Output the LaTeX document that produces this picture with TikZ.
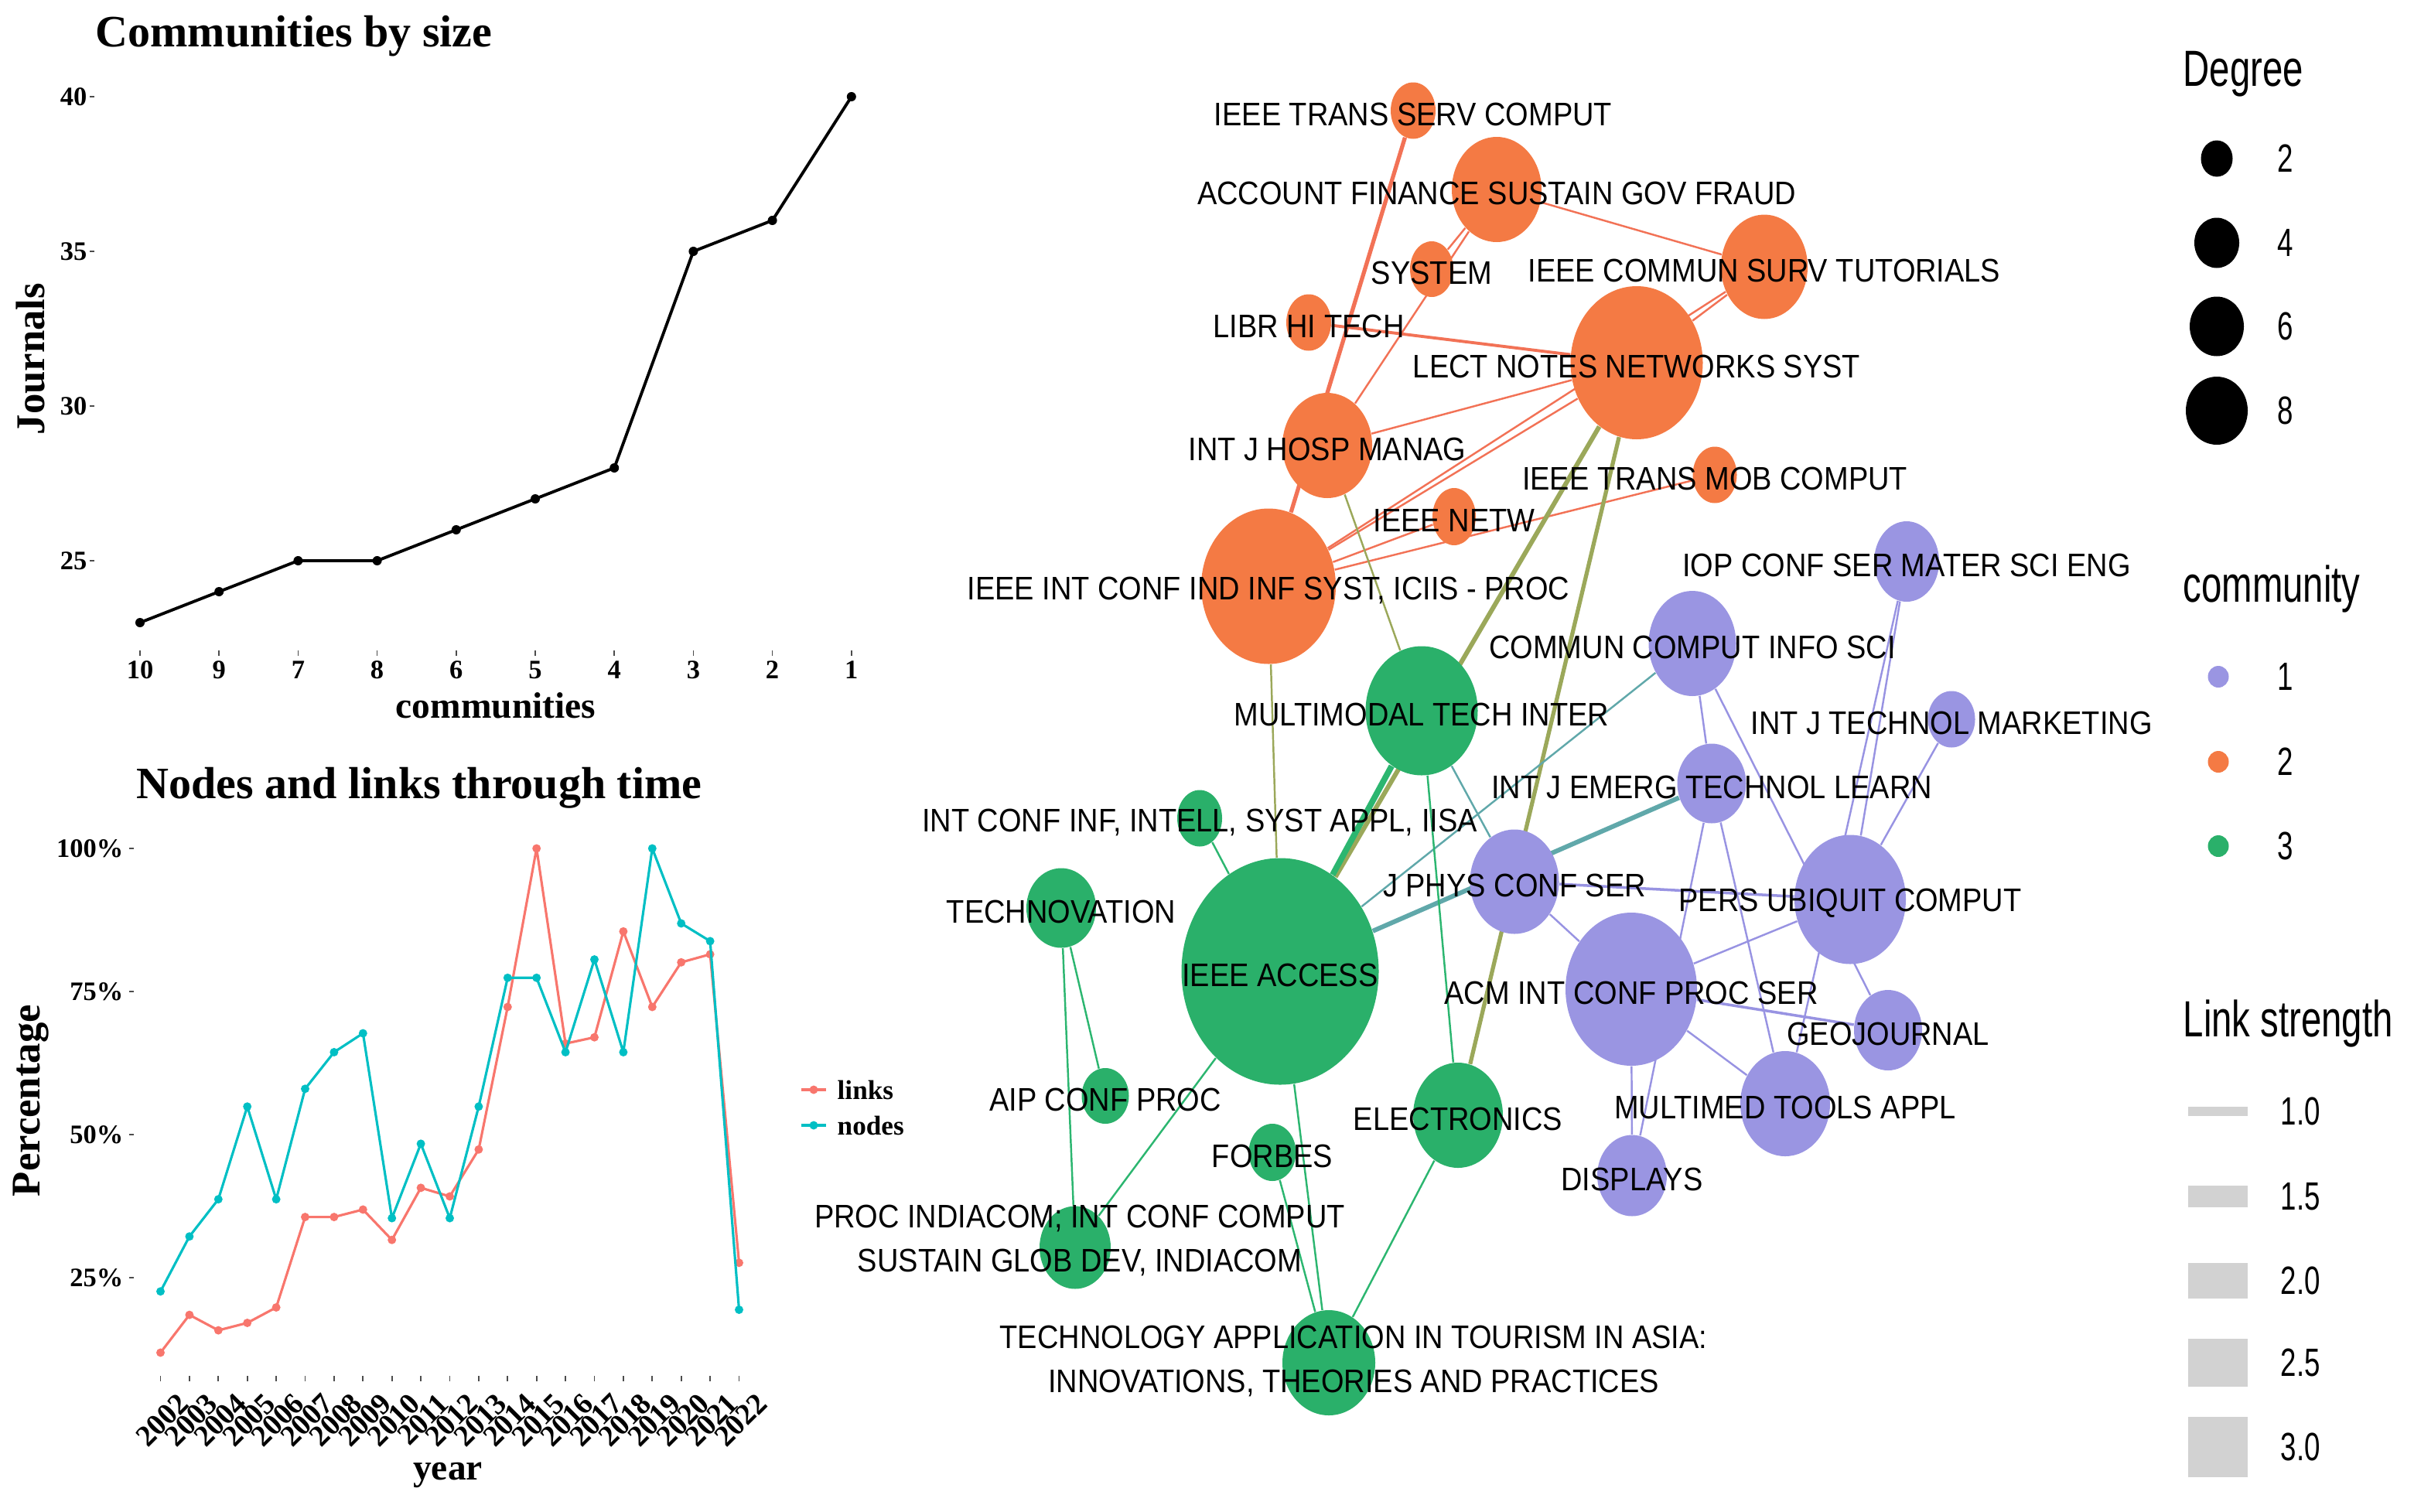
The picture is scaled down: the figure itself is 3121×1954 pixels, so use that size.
\documentclass[tikz,border=0pt]{standalone}
\usepackage{fontspec}
\setmainfont{Liberation Serif}
\newfontfamily\netfont[FakeStretch=0.9]{Liberation Sans}
\newfontfamily\legfont[FakeStretch=0.72]{Liberation Sans}
\usetikzlibrary{shapes.geometric,backgrounds}
\definecolor{corange}{RGB}{244,122,68}
\definecolor{cpurple}{RGB}{154,149,226}
\definecolor{cgreen}{RGB}{42,176,106}
\definecolor{eorange}{RGB}{242,114,86}
\definecolor{eolive}{RGB}{155,168,90}
\definecolor{eteal}{RGB}{96,168,170}
\definecolor{egreen}{RGB}{44,182,112}
\definecolor{epurple}{RGB}{152,147,226}
\definecolor{clinks}{RGB}{248,118,109}
\definecolor{cnodes}{RGB}{0,191,196}
\definecolor{lgrey}{RGB}{210,210,210}
\begin{document}
\begin{tikzpicture}[x=0.01cm, y=-0.01cm,
  nd/.style={ellipse, inner sep=0pt, draw=none},
  sz/.style 2 args={minimum width={#1*0.01cm}, minimum height={#2*0.01cm}},
  onode/.style={nd, fill=corange},
  pnode/.style={nd, fill=cpurple},
  gnode/.style={nd, fill=cgreen},
  lbl/.style={font=\netfont\fontsize{12}{16}\selectfont, align=center, inner sep=0pt},
  oe/.style={draw=eorange, line width=0.7pt},
  ole/.style={draw=eolive, line width=0.7pt},
  tee/.style={draw=eteal, line width=0.7pt},
  ge/.style={draw=egreen, line width=0.7pt},
  pe/.style={draw=epurple, line width=0.7pt},
  chtitle/.style={font=\bfseries\fontsize{16.5}{20}\selectfont, inner sep=0pt},
  axt/.style={font=\bfseries\fontsize{13.5}{16}\selectfont, inner sep=0pt},
  axv/.style={font=\bfseries\fontsize{15}{18}\selectfont, inner sep=0pt, rotate=90},
  ticklbl/.style={font=\bfseries\fontsize{9.8}{12}\selectfont, inner sep=0pt},
  yrlbl/.style={font=\bfseries\fontsize{11}{13}\selectfont, inner sep=0pt, rotate=45, anchor=east},
  tickmark/.style={draw=black!70, line width=0.5pt},
  blackdot/.style={circle, fill=black, inner sep=0pt, minimum size=0.12cm},
  ldot/.style={circle, fill=clinks, inner sep=0pt, minimum size=0.11cm},
  ndot/.style={circle, fill=cnodes, inner sep=0pt, minimum size=0.11cm},
  legt/.style={font=\legfont\fontsize{18.7}{22}\selectfont, inner sep=0pt},
  legi/.style={font=\legfont\fontsize{14.5}{17}\selectfont, inner sep=0pt, anchor=west},
  lbar/.style={rectangle, fill=lgrey, inner sep=0pt, minimum width=0.77cm}
]
\useasboundingbox (0,0) rectangle (3121,1954);

% ================= Communities by size =================
\node[chtitle, anchor=base west] (t1) at (123,60) {Communities by size};
\foreach \v/\yy in {40/125,35/325,30/525,25/725}{
  \node[ticklbl, anchor=east] (yl\v) at (113,\yy) {\v};
  \draw[tickmark] (116,\yy) -- (122,\yy);
}
\foreach \lab [count=\i from 0] in {10,9,7,8,6,5,4,3,2,1}{
  \node[ticklbl] (xl\i) at (181+102.2*\i,866) {\lab};
  \draw[tickmark] (181+102.2*\i,841) -- (181+102.2*\i,848);
}
\node[axt] (xt1) at (641,912) {communities};
\node[axv] (yt1) at (40,464) {Journals};
\begin{scope}[shift={(181,1725)}, xscale=102.2, yscale=-40]
  \draw[black, line width=1.1pt, line join=round] (0,23) -- (1,24) -- (2,25) -- (3,25) -- (4,26) -- (5,27) -- (6,28) -- (7,35) -- (8,36) -- (9,40);
  \foreach \v [count=\i from 0] in {23,24,25,25,26,27,28,35,36,40}
    \node[blackdot] (cd\i) at (\i,\v) {};
\end{scope}

% ================= Nodes and links through time =================
\node[chtitle, anchor=base] (t2) at (542,1032) {Nodes and links through time};
\foreach \v/\yy in {100/1097,75/1282,50/1467,25/1652}{
  \node[ticklbl, anchor=east] (pl\v) at (160,\yy) {\v\%};
  \draw[tickmark] (167,\yy) -- (173,\yy);
}
\foreach \yr [count=\i from 0] in {2002,2003,2004,2005,2006,2007,2008,2009,2010,2011,2012,2013,2014,2015,2016,2017,2018,2019,2020,2021,2022}{
  \draw[tickmark] (207.5+37.4*\i,1779) -- (207.5+37.4*\i,1786);
  \node[yrlbl] (yr\yr) at (237.5+37.4*\i,1808) {\yr};
}
\node[axt] (xt2) at (579,1907) {year};
\node[axv] (yt2) at (40,1423) {Percentage};
\begin{scope}[shift={(207.5,1837)}, xscale=37.4, yscale=-7.4]
  \draw[clinks, line width=0.9pt, line join=round] (0,11.9) -- (1,18.5) -- (2,15.8) -- (3,17.1) -- (4,19.8) -- (5,35.6) -- (6,35.6) -- (7,36.9) -- (8,31.6) -- (9,40.7) -- (10,39.2) -- (11,47.4) -- (12,72.3) -- (13,100) -- (14,65.9) -- (15,67.0) -- (16,85.5) -- (17,72.3) -- (18,80.1) -- (19,81.5) -- (20,27.6);
  \foreach \v [count=\i from 0] in {11.9,18.5,15.8,17.1,19.8,35.6,35.6,36.9,31.6,40.7,39.2,47.4,72.3,100,65.9,67.0,85.5,72.3,80.1,81.5,27.6}
    \node[ldot] (lk\i) at (\i,\v) {};
  \draw[cnodes, line width=0.9pt, line join=round] (0,22.6) -- (1,32.2) -- (2,38.7) -- (3,54.9) -- (4,38.7) -- (5,58.0) -- (6,64.4) -- (7,67.7) -- (8,35.4) -- (9,48.4) -- (10,35.4) -- (11,54.9) -- (12,77.4) -- (13,77.4) -- (14,64.4) -- (15,80.6) -- (16,64.4) -- (17,100) -- (18,86.9) -- (19,83.8) -- (20,19.4);
  \foreach \v [count=\i from 0] in {22.6,32.2,38.7,54.9,38.7,58.0,64.4,67.7,35.4,48.4,35.4,54.9,77.4,77.4,64.4,80.6,64.4,100,86.9,83.8,19.4}
    \node[ndot] (nk\i) at (\i,\v) {};
\end{scope}
\draw[clinks, line width=0.9pt] (1036,1409) -- (1068,1409);
\node[ldot] (lgl) at (1052,1409) {};
\node[font=\bfseries\fontsize{10}{12}\selectfont, inner sep=0pt, anchor=west] (lgltx) at (1082,1409) {links};
\draw[cnodes, line width=0.9pt] (1036,1455) -- (1068,1455);
\node[ndot] (lgn) at (1052,1455) {};
\node[font=\bfseries\fontsize{10}{12}\selectfont, inner sep=0pt, anchor=west] (lgntx) at (1082,1455) {nodes};

% ================= Network: nodes =================
\node[onode, sz={58}{73}] (serv) at (1827,143) {};
\node[onode, sz={116}{136}] (account) at (1935,245) {};
\node[onode, sz={56}{72}] (system) at (1851,348) {};
\node[onode, sz={112}{135}] (commsurv) at (2281,345) {};
\node[onode, sz={58}{73}] (libr) at (1692,417) {};
\node[onode, sz={171}{198}] (lect) at (2116,469) {};
\node[onode, sz={116}{136}] (hosp) at (1716,576) {};
\node[onode, sz={57}{73}] (mob) at (2217,614) {};
\node[onode, sz={56}{74}] (netw) at (1880,668) {};
\node[onode, sz={174}{201}] (infsyst) at (1640,758) {};

\node[pnode, sz={84}{104}] (iop) at (2465,726) {};
\node[pnode, sz={113}{136}] (commun) at (2188,832) {};
\node[pnode, sz={61}{73}] (market) at (2523,930) {};
\node[pnode, sz={89}{103}] (emerg) at (2213,1013) {};
\node[pnode, sz={115}{135}] (jphys) at (1958,1140) {};
\node[pnode, sz={144}{167}] (pers) at (2392,1163) {};
\node[pnode, sz={170}{198}] (acm) at (2109,1279) {};
\node[pnode, sz={88}{104}] (geo) at (2441,1332) {};
\node[pnode, sz={116}{136}] (multimed) at (2308,1427) {};
\node[pnode, sz={90}{105}] (displays) at (2110,1520) {};

\node[gnode, sz={145}{167}] (multimodal) at (1838,919) {};
\node[gnode, sz={58}{73}] (iisa) at (1551,1058) {};
\node[gnode, sz={90}{103}] (technovation) at (1372,1174) {};
\node[gnode, sz={255}{293}] (access) at (1655,1256) {};
\node[gnode, sz={61}{72}] (aip) at (1429,1417) {};
\node[gnode, sz={61}{74}] (forbes) at (1645,1490) {};
\node[gnode, sz={116}{136}] (electronics) at (1885,1442) {};
\node[gnode, sz={92}{107}] (indiacom) at (1390,1613) {};
\node[gnode, sz={120}{136}] (tourism) at (1718,1762) {};

% ================= Network: edges =================
\begin{scope}[on background layer]
\draw[oe, line width=1.5pt] (serv) -- (infsyst);
\draw[oe] (account) -- (system);
\draw[oe] (account) -- (hosp);
\draw[oe] (account) -- (commsurv);
\draw[oe] (commsurv) -- (lect);
\draw[oe] (commsurv) -- (infsyst);
\draw[oe, line width=1.1pt] (libr) -- (lect);
\draw[oe] (lect) -- (hosp);
\draw[oe] (lect) -- (infsyst);
\draw[oe] (infsyst) -- (netw);
\draw[oe] (infsyst) -- (mob);
\draw[ole] (infsyst) -- (access);
\draw[ole] (hosp) -- (multimodal);
\draw[ole, line width=1.7pt] (lect) -- (access);
\draw[ole, line width=1.5pt] (lect) -- (electronics);
\draw[tee, line width=1.7pt] (access) -- (emerg);
\draw[tee] (access) -- (commun);
\draw[tee] (multimodal) -- (jphys);
\draw[ge, line width=2.2pt] (multimodal) -- (access);
\draw[ge] (multimodal) -- (electronics);
\draw[ge] (iisa) -- (access);
\draw[ge] (technovation) -- (aip);
\draw[ge] (technovation) -- (indiacom);
\draw[ge] (access) -- (indiacom);
\draw[ge] (access) -- (tourism);
\draw[ge] (forbes) -- (tourism);
\draw[ge] (electronics) -- (tourism);
\draw[pe] (iop) -- (pers);
\draw[pe] (iop) -- (multimed);
\draw[pe] (market) -- (pers);
\draw[pe] (commun) -- (emerg);
\draw[pe] (commun) -- (geo);
\draw[pe] (emerg) -- (multimed);
\draw[pe] (emerg) -- (displays);
\draw[pe, line width=1.0pt] (jphys) -- (pers);
\draw[pe] (jphys) -- (acm);
\draw[pe] (acm) -- (pers);
\draw[pe, line width=1.0pt] (acm) -- (geo);
\draw[pe] (acm) -- (multimed);
\draw[pe] (acm) -- (displays);
\end{scope}

% ================= Network: labels =================
\node[lbl] (l-serv) at ([yshift=-0.05cm]serv.center) {IEEE TRANS SERV COMPUT};
\node[lbl] (l-account) at ([yshift=-0.05cm]account.center) {ACCOUNT FINANCE SUSTAIN GOV FRAUD};
\node[lbl] (l-system) at ([yshift=-0.05cm]system.center) {SYSTEM};
\node[lbl] (l-commsurv) at ([yshift=-0.05cm]commsurv.center) {IEEE COMMUN SURV TUTORIALS};
\node[lbl] (l-libr) at ([yshift=-0.05cm]libr.center) {LIBR HI TECH};
\node[lbl] (l-lect) at ([yshift=-0.05cm]lect.center) {LECT NOTES NETWORKS SYST};
\node[lbl] (l-hosp) at ([yshift=-0.05cm]hosp.center) {INT J HOSP MANAG};
\node[lbl] (l-mob) at ([yshift=-0.05cm]mob.center) {IEEE TRANS MOB COMPUT};
\node[lbl] (l-netw) at ([yshift=-0.05cm]netw.center) {IEEE NETW};
\node[lbl] (l-infsyst) at ([yshift=-0.05cm]infsyst.center) {IEEE INT CONF IND INF SYST, ICIIS - PROC};
\node[lbl] (l-iop) at ([yshift=-0.05cm]iop.center) {IOP CONF SER MATER SCI ENG};
\node[lbl] (l-commun) at ([yshift=-0.05cm]commun.center) {COMMUN COMPUT INFO SCI};
\node[lbl] (l-market) at ([yshift=-0.05cm]market.center) {INT J TECHNOL MARKETING};
\node[lbl] (l-emerg) at ([yshift=-0.05cm]emerg.center) {INT J EMERG TECHNOL LEARN};
\node[lbl] (l-jphys) at ([yshift=-0.05cm]jphys.center) {J PHYS CONF SER};
\node[lbl] (l-pers) at ([yshift=-0.05cm]pers.center) {PERS UBIQUIT COMPUT};
\node[lbl] (l-acm) at ([yshift=-0.05cm]acm.center) {ACM INT CONF PROC SER};
\node[lbl] (l-geo) at ([yshift=-0.05cm]geo.center) {GEOJOURNAL};
\node[lbl] (l-multimed) at ([yshift=-0.05cm]multimed.center) {MULTIMED TOOLS APPL};
\node[lbl] (l-displays) at ([yshift=-0.05cm]displays.center) {DISPLAYS};
\node[lbl] (l-multimodal) at ([yshift=-0.05cm]multimodal.center) {MULTIMODAL TECH INTER};
\node[lbl] (l-iisa) at ([yshift=-0.05cm]iisa.center) {INT CONF INF, INTELL, SYST APPL, IISA};
\node[lbl] (l-technovation) at ([yshift=-0.05cm]technovation.center) {TECHNOVATION};
\node[lbl] (l-access) at ([yshift=-0.05cm]access.center) {IEEE ACCESS};
\node[lbl] (l-aip) at ([yshift=-0.05cm]aip.center) {AIP CONF PROC};
\node[lbl] (l-forbes) at ([yshift=-0.05cm]forbes.center) {FORBES};
\node[lbl] (l-electronics) at ([yshift=-0.05cm]electronics.center) {ELECTRONICS};
\node[lbl] (l-indiacom) at (1396,1604) {PROC INDIACOM; INT CONF COMPUT\\SUSTAIN GLOB DEV, INDIACOM};
\node[lbl] (l-tourism) at (1750,1760) {TECHNOLOGY APPLICATION IN TOURISM IN ASIA:\\INNOVATIONS, THEORIES AND PRACTICES};

% ================= Legends =================
\node[legt, anchor=base west] (degT) at (2822,111) {Degree};
\node[nd, fill=black, sz={41}{47}] (d2) at (2866,205) {};
\node[nd, fill=black, sz={58}{65}] (d4) at (2866,314) {};
\node[nd, fill=black, sz={70}{77}] (d6) at (2866,422) {};
\node[nd, fill=black, sz={80}{88}] (d8) at (2866,531) {};
\node[legi] (d2l) at (2944,205) {2};
\node[legi] (d4l) at (2944,314) {4};
\node[legi] (d6l) at (2944,422) {6};
\node[legi] (d8l) at (2944,531) {8};

\node[legt, anchor=base west] (comT) at (2822,778) {community};
\node[nd, fill=cpurple, sz={27}{28}] (c1) at (2868,875) {};
\node[nd, fill=corange, sz={27}{28}] (c2) at (2868,985) {};
\node[nd, fill=cgreen, sz={27}{28}] (c3) at (2868,1094) {};
\node[legi] (c1l) at (2944,875) {1};
\node[legi] (c2l) at (2944,985) {2};
\node[legi] (c3l) at (2944,1094) {3};

\node[legt, anchor=base west] (lsT) at (2822,1340) {Link strength};
\node[lbar, minimum height=0.12cm] (s1) at (2867.5,1437) {};
\node[lbar, minimum height=0.28cm] (s2) at (2867.5,1547) {};
\node[lbar, minimum height=0.46cm] (s3) at (2867.5,1656) {};
\node[lbar, minimum height=0.62cm] (s4) at (2867.5,1762) {};
\node[lbar, minimum height=0.78cm] (s5) at (2867.5,1871) {};
\node[legi] (s1l) at (2948,1437) {1.0};
\node[legi] (s2l) at (2948,1547) {1.5};
\node[legi] (s3l) at (2948,1656) {2.0};
\node[legi] (s4l) at (2948,1762) {2.5};
\node[legi] (s5l) at (2948,1871) {3.0};
\end{tikzpicture}
\end{document}
